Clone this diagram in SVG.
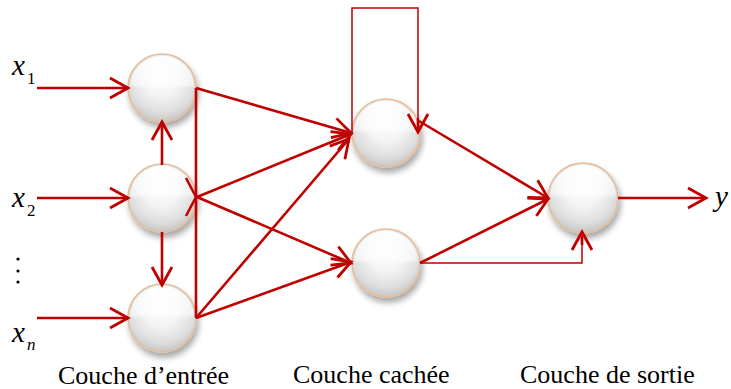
<svg xmlns="http://www.w3.org/2000/svg" width="731" height="389" viewBox="0 0 731 389">
<defs>
<radialGradient id="ball" cx="50%" cy="40%" r="60%" fx="50%" fy="30%">
<stop offset="0" stop-color="#ffffff"/>
<stop offset="0.45" stop-color="#f4f4f4"/>
<stop offset="0.8" stop-color="#dedede"/>
<stop offset="1" stop-color="#c6c6c6"/>
</radialGradient>
<linearGradient id="gloss" x1="0" y1="0" x2="0" y2="1">
<stop offset="0" stop-color="#ffffff" stop-opacity="0.9"/>
<stop offset="0.45" stop-color="#ffffff" stop-opacity="0.5"/>
<stop offset="0.5" stop-color="#ffffff" stop-opacity="0"/>
<stop offset="1" stop-color="#ffffff" stop-opacity="0"/>
</linearGradient>
<filter id="sh" x="-30%" y="-30%" width="170%" height="170%">
<feGaussianBlur in="SourceAlpha" stdDeviation="3"/>
<feOffset dx="2" dy="5" result="b"/>
<feComponentTransfer><feFuncA type="linear" slope="0.35"/></feComponentTransfer>
<feMerge><feMergeNode/><feMergeNode in="SourceGraphic"/></feMerge>
</filter>
<marker id="ah" viewBox="-22 -14 24 28" refX="0" refY="0" markerWidth="24" markerHeight="28" markerUnits="userSpaceOnUse" orient="auto" overflow="visible">
<path d="M-18,-10 L0,0 L-18,10" fill="none" stroke="#C00000" stroke-width="2.8"/>
</marker>
</defs>
<style>
.n circle.b{fill:url(#ball);stroke:#E6BC98;stroke-width:1.6;filter:url(#sh)}
.n circle.g{fill:url(#gloss);stroke:none}
.c{stroke:#C00000;stroke-width:2.6;fill:none}
.t{stroke:#C00000;stroke-width:1.5;fill:none}
.a{marker-end:url(#ah)}
.v{font-style:italic;font-size:29px}
.s{font-size:17px}
.l{font-size:26px}
</style>
<g id="in1" class="n"><circle class="b" cx="162" cy="88" r="34"/><circle class="g" cx="162" cy="88" r="32"/></g>
<g id="in2" class="n"><circle class="b" cx="162" cy="198" r="34"/><circle class="g" cx="162" cy="198" r="32"/></g>
<g id="in3" class="n"><circle class="b" cx="162" cy="318" r="34"/><circle class="g" cx="162" cy="318" r="32"/></g>
<g id="h1" class="n"><circle class="b" cx="386" cy="133" r="34"/><circle class="g" cx="386" cy="133" r="32"/></g>
<g id="h2" class="n"><circle class="b" cx="386" cy="263" r="34"/><circle class="g" cx="386" cy="263" r="32"/></g>
<g id="out" class="n"><circle class="b" cx="583" cy="198" r="35"/><circle class="g" cx="583" cy="198" r="33"/></g>
<g id="connectors">
<line class="c a" x1="37" y1="88" x2="128" y2="88"/>
<line class="c a" x1="37" y1="198" x2="128" y2="198"/>
<line class="c a" x1="37" y1="318" x2="128" y2="318"/>
<line class="c a" x1="162" y1="165" x2="162" y2="122"/>
<line class="c a" x1="162" y1="232" x2="162" y2="285"/>
<line class="c" x1="196" y1="88" x2="196" y2="318"/>
<path class="c" d="M186,178 L196,197 L186,216"/>
<line class="c a" x1="196" y1="88" x2="351" y2="133"/>
<line class="c a" x1="197" y1="197" x2="351" y2="134"/>
<line class="c a" x1="197" y1="197" x2="351" y2="263"/>
<line class="c a" x1="196" y1="318" x2="349" y2="139"/>
<line class="c a" x1="196" y1="318" x2="351" y2="262"/>
<polyline class="t" points="352,133 352,8 418,8 418,120"/>
<line class="c a" x1="418" y1="118" x2="418" y2="132"/>
<line class="c a" x1="419" y1="121" x2="548" y2="198"/>
<line class="c a" x1="420" y1="263" x2="548" y2="199"/>
<polyline class="t" points="420,263 582,263 582,245"/>
<line class="c a" x1="582" y1="245" x2="582" y2="232"/>
<line class="c a" x1="618" y1="198" x2="706" y2="198"/>
</g>
<g id="labels" font-family="'Liberation Serif', 'Times New Roman', serif" fill="#000">
<text x="12" y="75" class="v" font-family="Liberation Serif" font-style="italic">x</text><text x="27" y="84" class="s" font-family="Liberation Serif">1</text>
<text x="12" y="207" class="v" font-family="Liberation Serif" font-style="italic">x</text><text x="27" y="216" class="s" font-family="Liberation Serif">2</text>
<circle cx="18" cy="259" r="1.6"/><circle cx="18" cy="271" r="1.6"/><circle cx="18" cy="282" r="1.6"/>
<text x="12" y="342" class="v" font-family="Liberation Serif" font-style="italic">x</text><text x="27" y="350" class="s" font-family="Liberation Serif" font-style="italic">n</text>
<text x="715" y="206" class="v" font-family="Liberation Serif" font-style="italic">y</text>
<text x="58" y="384" class="l" font-family="Liberation Serif">Couche d’entrée</text>
<text x="293" y="383" class="l" font-family="Liberation Serif">Couche cachée</text>
<text x="520" y="383" class="l" font-family="Liberation Serif">Couche de sortie</text>
</g>
</svg>
